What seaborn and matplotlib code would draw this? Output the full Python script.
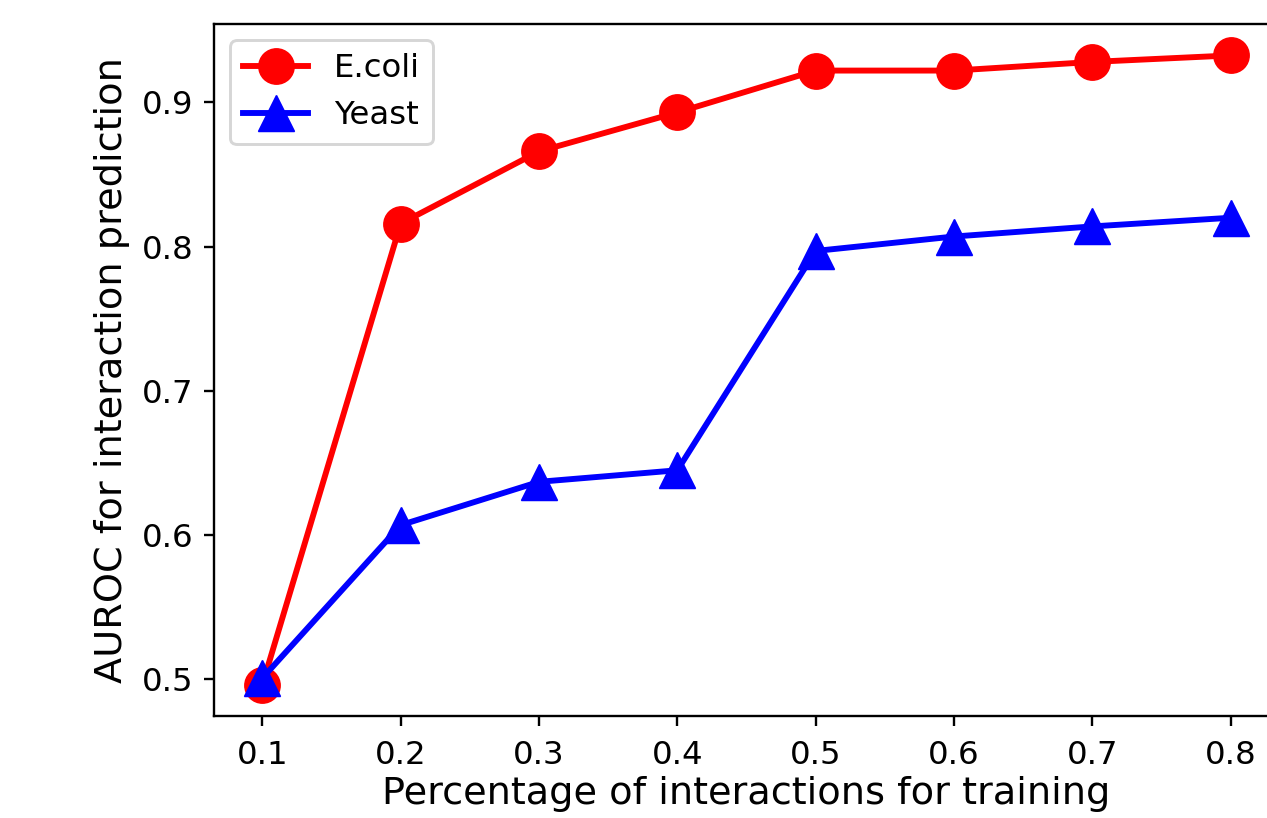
import pandas as pd
import matplotlib.pyplot as plt
import seaborn as sns

# 学習データの割合
train_frac = [0.1, 0.2, 0.3, 0.4, 0.5, 0.6, 0.7, 0.8]
# AUROC
auroc_ecoli = [0.4965, 0.816, 0.866, 0.893, 0.922, 0.922, 0.928, 0.9325]
auroc_yeast = [0.501, 0.607, 0.637, 0.645, 0.797, 0.807, 0.814, 0.820]
names = ["E.coli", "Yeast"]

df = pd.DataFrame({
    "frac": train_frac * 2,
    "auroc": auroc_ecoli + auroc_yeast,
    "data": [names[0]] * len(train_frac) + [names[1]] * len(train_frac),
})

dpi = 212
fig = plt.figure(figsize=(1267 / dpi, 818 / dpi), dpi=dpi)
ax = fig.add_axes([0.1689, 0.1247, 0.8406, 0.846])

sns.lineplot(data=df, x="frac", y="auroc", hue="data", style="data",
             hue_order=names, style_order=names,
             palette={"E.coli": "red", "Yeast": "blue"},
             markers={"E.coli": "o", "Yeast": "^"}, dashes=False,
             linewidth=2, markersize=12, legend=False, ax=ax)

for line in ax.lines:
    line.set_markeredgecolor(line.get_color())
    line.set_markeredgewidth(0.5)

ax.legend(handles=ax.lines[:2], labels=names, loc="upper left", fontsize=11)
ax.set_xticks(train_frac)
ax.set_xlabel("Percentage of interactions for training", fontsize=13, labelpad=2)
ax.set_ylabel("AUROC for interaction prediction", fontsize=13)
ax.tick_params(labelsize=11)
ax.tick_params(axis="x", pad=4.5)

fig.savefig("out.png", dpi=dpi)
